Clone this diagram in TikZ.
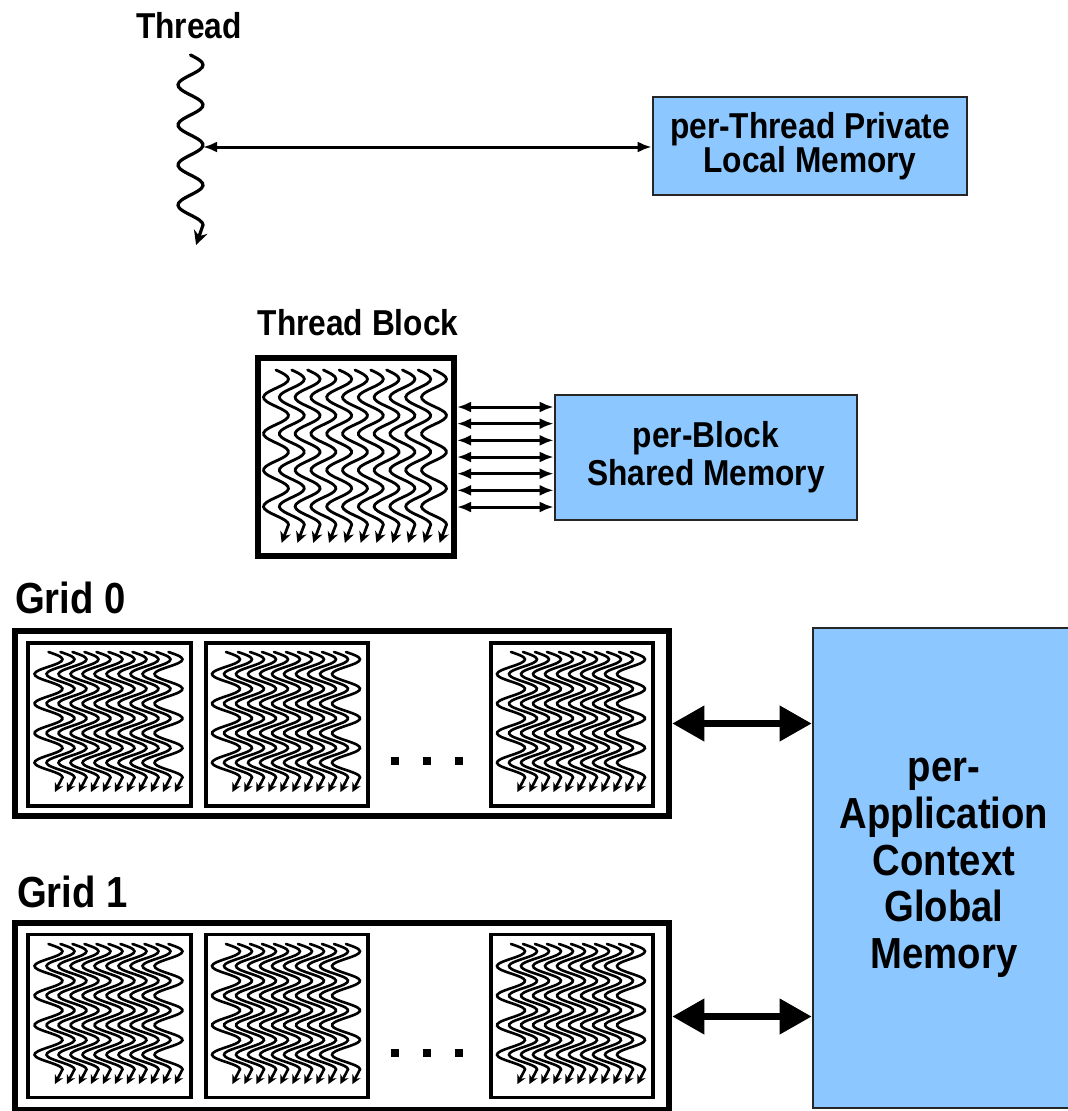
\documentclass[tikz,border=0pt]{standalone}
\usepackage{fontspec}
\setmainfont{Liberation Sans}[FakeStretch=0.88]
\usetikzlibrary{arrows.meta}
\definecolor{memblue}{RGB}{140,200,255}
% wavy thread: centre x, top y, amplitude, period, line width, arrow size
\newcommand\wavethread[6]{%
  \pgfmathsetmacro\wtend{4.25*#4}%
  \pgfmathsetmacro\wtk{360/#4}%
  \draw[line width=#5, line cap=round, -{Stealth[length=#6, width=#6]}]
    plot[domain=0:\wtend, samples=70, smooth, variable=\t]
      ({#1+#3*sin(\wtk*\t)}, {#2+\t}) -- ++({-0.55*#3}, {0.5*#4});%
}
\begin{document}
\begin{tikzpicture}[x=1pt, y=-1pt,
  lbl/.style={font=\fontsize{36}{40}\selectfont\bfseries, inner sep=0pt},
  gridlbl/.style={font=\fontsize{43.5}{48}\selectfont\bfseries, inner sep=0pt},
  membox/.style={draw=black!85, line width=2.6pt, fill=memblue, align=center, inner sep=0pt},
  blockbox/.style={draw=black, line width=6pt, fill=white, inner sep=0pt},
  gridbox/.style={draw=black, line width=6.5pt, fill=white, inner sep=0pt},
  smallblock/.style={draw=black, line width=3.8pt, fill=white, inner sep=0pt,
    minimum width=162.5pt, minimum height=163pt},
  dbl/.style={line width=3pt, {Latex[length=14pt, width=11pt]}-{Latex[length=14pt, width=11pt]}},
  bigdbl/.style={line width=7pt, {Triangle[length=32pt, width=34pt]}-{Triangle[length=32pt, width=34pt]}},
  dotsq/.style={fill=black}
]
\useasboundingbox (0,0) rectangle (1068,1111);

% ---------------- Thread ----------------
\node[lbl, anchor=base] (thr) at (189,38) {Thread};
\wavethread{190.5}{55}{12.5}{40}{3.2pt}{14pt}
\coordinate (tp) at (203,147);
\node[membox, minimum width=314pt, minimum height=98pt,
      font=\fontsize{36}{33}\selectfont\bfseries] (loc) at (810,146)
      {per-Thread Private\\Local Memory};
\draw[dbl] (tp) -- (tp -| loc.west);

% ---------------- Thread block ----------------
\node[lbl, anchor=base] (tbl) at (358,335) {Thread Block};
\node[blockbox, minimum width=196pt, minimum height=198pt] (tb) at (356,457) {};
\foreach \i in {0,...,10} {%
  \pgfmathsetmacro\cx{276+15.8*\i}%
  \wavethread{\cx}{370}{12.5}{36.4}{2.8pt}{11pt}%
}
\node[membox, minimum width=302pt, minimum height=125pt,
      font=\fontsize{36}{38}\selectfont\bfseries] (sm) at (706,457.5)
      {per-Block\\Shared Memory};
\foreach \k in {0,...,6} {%
  \pgfmathsetmacro\dy{50-16.667*\k}%
  \draw[dbl] ([yshift=\dy pt]tb.east) -- ([yshift=\dy pt]tb.east -| sm.west);
}

% ---------------- Global memory ----------------
\node[membox, minimum width=262pt, minimum height=480pt,
      font=\fontsize{43.5}{46.7}\selectfont\bfseries] (gm) at (944,868)
      {per-\\Application\\Context\\Global\\Memory};

% ---------------- Grid 0 ----------------
\node[gridlbl, anchor=base west] (g0l) at (15,613) {Grid 0};
\node[gridbox, minimum width=654pt, minimum height=185pt] (g0) at (342,723.5) {};
\foreach \bx/\nm in {109.5/a, 287/b, 572/c} {%
  \node[smallblock] (g0\nm) at (\bx,724.5) {};
  \foreach \i in {0,...,10} {%
    \pgfmathsetmacro\cx{\bx-61+12*\i}%
    \wavethread{\cx}{652}{14}{29.5}{2.6pt}{9pt}%
  }
}
\foreach \dx in {395,427,459} \fill[dotsq] (\dx-4,757) rectangle ++(8,8);
\draw[bigdbl] (g0.east) -- (g0.east -| gm.west);

% ---------------- Grid 1 ----------------
\node[gridlbl, anchor=base west] (g1l) at (17,907) {Grid 1};
\node[gridbox, minimum width=654pt, minimum height=187pt] (g1) at (342,1016.5) {};
\foreach \bx/\nm in {109.5/a, 287/b, 572/c} {%
  \node[smallblock] (g1\nm) at (\bx,1016) {};
  \foreach \i in {0,...,10} {%
    \pgfmathsetmacro\cx{\bx-61+12*\i}%
    \wavethread{\cx}{944}{14}{29.5}{2.6pt}{9pt}%
  }
}
\foreach \dx in {395,427,459} \fill[dotsq] (\dx-4,1049) rectangle ++(8,8);
\draw[bigdbl] (g1.east) -- (g1.east -| gm.west);
\end{tikzpicture}
\end{document}
